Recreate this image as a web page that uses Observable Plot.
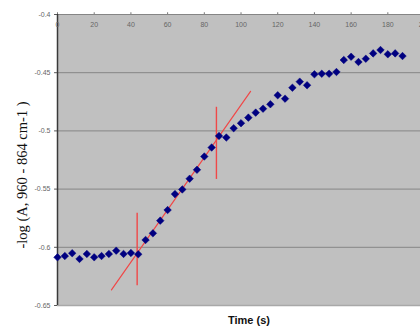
<!DOCTYPE html>
<html>
<head>
<meta charset="utf-8">
<script src="https://cdn.jsdelivr.net/npm/d3@7"></script>
<script src="https://cdn.jsdelivr.net/npm/@observablehq/plot@0.6"></script>
<style>
  html, body { margin: 0; padding: 0; background: #fff; }
  #chart { width: 420px; height: 328px; overflow: hidden; }
</style>
</head>
<body>
<div id="chart"></div>
<script>
// Data
const times = [0, 4, 8, 12, 16, 20, 24, 28, 32, 36, 40, 44, 48, 52, 56, 60, 64, 68, 72, 76, 80, 84, 88, 92,
  96, 100, 104, 108, 112, 116, 120, 124, 128, 132, 136, 140, 144, 148, 152, 156, 160, 164, 168, 172, 176, 180, 184, 188];
const absorb = [-0.6086, -0.6075, -0.6051, -0.6100, -0.6057, -0.6086, -0.6075, -0.6057, -0.6029, -0.6057, -0.6049, -0.6060,
  -0.5937, -0.5880, -0.5771, -0.5680, -0.5543, -0.5503, -0.5411, -0.5334, -0.5220, -0.5143, -0.5043, -0.5057,
  -0.4977, -0.4934, -0.4886, -0.4843, -0.4809, -0.4771, -0.4694, -0.4723, -0.4629, -0.4577, -0.4608, -0.4514,
  -0.4509, -0.4509, -0.4494, -0.4391, -0.4363, -0.4408, -0.4380, -0.4334, -0.4305, -0.4342, -0.4334, -0.4357];

// Red fitted line (two end points)
const fitX = [29.4, 105.2];
const fitY = [-0.6366, -0.466];

// Red vertical markers
const markerX = [43.4, 86.6];
const markerYLow = [-0.6331, -0.5417];
const markerYHigh = [-0.5708, -0.4797];

// Tick labels
const xTicks = [0, 20, 40, 60, 80, 100, 120, 140, 160, 180, 200];
const xTickLabels = ["0", "20", "40", "60", "80", "100", "120", "140", "160", "180", "200"];
const yTicks = [-0.4, -0.45, -0.5, -0.55, -0.6, -0.65];
const yTickLabels = ["-0.4", "-0.45", "-0.5", "-0.55", "-0.6", "-0.65"];

const yLabel = "-log (A, 960 - 864 cm-1 )";
const xLabel = "Time (s)";

const points = times.map((t, i) => ({t, v: absorb[i]}));
const fit = fitX.map((x, i) => ({x, y: fitY[i]}));
const markers = markerX.map((x, i) => ({x, y1: markerYLow[i], y2: markerYHigh[i]}));
const xt = xTicks.map((x, i) => ({x, label: xTickLabels[i]}));
const yt = yTicks.map((y, i) => ({y, label: yTickLabels[i]}));

const chart = Plot.plot({
  width: 420,
  height: 328,
  marginTop: 14,
  marginBottom: 23,
  marginLeft: 57,
  marginRight: 0,
  style: {background: "#fff", fontFamily: "Arial, 'Liberation Sans', sans-serif", overflow: "hidden"},
  x: {type: "linear", domain: [0, 197.8], axis: null},
  y: {type: "linear", domain: [-0.65, -0.4], axis: null},
  marks: [
    Plot.frame({fill: "#c0c0c0", stroke: null}),
    Plot.ruleY(yTicks, {stroke: "#858585", strokeWidth: 1}),
    Plot.ruleY([-0.65], {stroke: "#a8a8a8", strokeWidth: 1.5}),
    Plot.ruleX([0], {stroke: "#3a3a3a", strokeWidth: 1.5}),
    // left ticks
    Plot.ruleY(yt, {y: "y", x1: -1.6, x2: 0, stroke: "#555", strokeWidth: 1}),
    Plot.text(yt, {x: () => 0, y: "y", text: "label", textAnchor: "end", dx: -7, fontSize: 7, fill: "#666"}),
    // top ticks and labels
    Plot.ruleX(xTicks, {y1: -0.4, y2: -0.3985, stroke: "#777"}),
    Plot.text(xt, {x: "x", y: () => -0.4, text: "label", dy: 10, fontSize: 7, fill: "#666"}),
    // red lines
    Plot.line(fit, {x: "x", y: "y", stroke: "#f04848", strokeWidth: 1.2}),
    Plot.ruleX(markers, {x: "x", y1: "y1", y2: "y2", stroke: "#f04848", strokeWidth: 1.4}),
    // data points
    Plot.dot(points, {x: "t", y: "v", symbol: "diamond2", r: 3.4, fill: "#000080", stroke: "#000080", strokeWidth: 0.5}),
    // axis labels
    Plot.text([yLabel], {frameAnchor: "left", textAnchor: "middle", dx: -35, dy: 15, rotate: -90, fontSize: 14.5,
      fontFamily: "'Liberation Serif', 'Times New Roman', serif", fill: "#111"}),
    Plot.text([xLabel], {frameAnchor: "bottom", dy: 18, dx: 10, fontSize: 11, fontWeight: "bold", fill: "#111"})
  ]
});
document.getElementById("chart").appendChild(chart);
</script>
</body>
</html>
